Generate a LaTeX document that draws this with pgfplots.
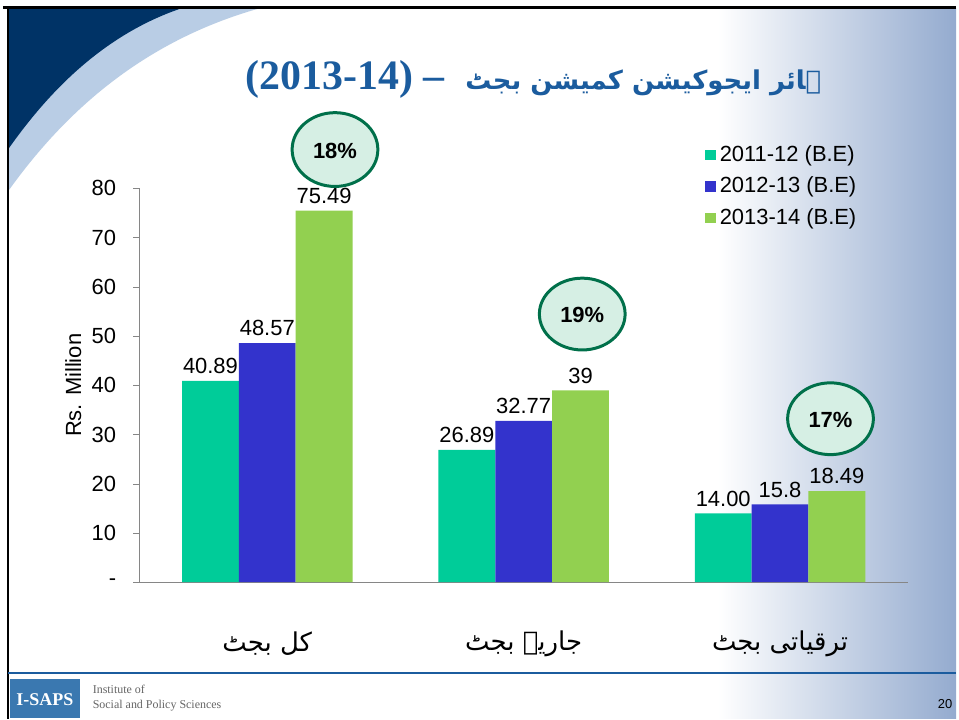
\documentclass[border=0pt]{standalone}
\usepackage{fontspec}
\setmainfont{Liberation Sans}
\newfontfamily\arabicfont[Script=Arabic]{DejaVu Sans}
\newfontfamily\serifbf{Liberation Serif}
\usepackage{pgfplots}
\pgfplotsset{compat=1.18}
\TeXXeTstate=1

\definecolor{navy}{HTML}{003366}
\definecolor{swlight}{HTML}{B9CDE5}
\definecolor{grad}{HTML}{94ABCF}
\definecolor{cteal}{HTML}{00CC99}
\definecolor{cblue}{HTML}{3333CC}
\definecolor{cgreen}{HTML}{92D050}
\definecolor{titleblue}{HTML}{1B5C9E}
\definecolor{ringgreen}{HTML}{00704A}
\definecolor{ringfill}{HTML}{D6EFE4}
\definecolor{axgray}{HTML}{868686}
\definecolor{logoblue}{HTML}{3A78B0}

\begin{document}
\begin{tikzpicture}
% slide background, 1 unit = 1 px of the reference
\begin{scope}[x=0.5pt,y=-0.5pt]
\fill[white] (0,0) rectangle (959,721);
\shade[left color=white,right color=grad] (720,9) rectangle (959,721);
\fill[swlight] (8,9) -- (8,192) .. controls (70,105) and (150,40) .. (258,9) -- cycle;
\fill[navy] (8,9) -- (8,150) .. controls (50,90) and (105,35) .. (180,9) -- cycle;
\draw[black,line width=1.5pt] (3,8) -- (959,8);
\draw[black,line width=1pt] (8,8) -- (8,721);
\draw[titleblue,line width=0.6pt] (8,675) -- (959,675);
\fill[logoblue] (10,681) rectangle (80,720);
\node[white,font=\serifbf\bfseries\fontsize{9}{10}\selectfont] at (45,702) {I-SAPS};
\node[anchor=west,align=left,text=gray!80!black,font=\serifbf\fontsize{6}{7.5}\selectfont] at (86,700) {Institute of\\Social and Policy Sciences};
\node[font=\fontsize{6.5}{8}\selectfont] at (948,706) {20};
\end{scope}

\begin{axis}[
  at={(69.75pt,-292pt)}, anchor=south west,
  scale only axis, width=385.75pt, height=197.5pt,
  xmin=-0.5, xmax=2.5, ymin=0, ymax=80,
  ybar=0pt, bar width=28.5pt,
  axis lines*=left,
  axis line style={-,draw=axgray},
  xtick={0,1,2},
  xticklabels={{\arabicfont\beginR کل بجٹ\endR},{\arabicfont\beginR جاریہ بجٹ\endR},{\arabicfont\beginR ترقیاتی بجٹ\endR}},
  xtick style={draw=none},
  xticklabel style={anchor=center,yshift=-28pt,font=\fontsize{13}{16}\selectfont},
  ytick={0,10,...,80},
  yticklabels={-,10,20,30,40,50,60,70,80},
  ytick style={draw=axgray},
  tick align=outside, major tick length=3pt,
  yticklabel style={font=\fontsize{11}{13}\selectfont,xshift=-5pt},
  /pgf/number format/assume math mode=true,
  ylabel={Rs. Million},
  every axis y label/.style={at={(axis description cs:-0.0856,0.5)},rotate=90,anchor=center,font=\fontsize{11}{13}\selectfont},
  nodes near coords, point meta=explicit symbolic,
  every node near coord/.append style={font=\fontsize{11}{13}\selectfont,black},
  legend style={at={(0.735,1.12)},anchor=north west,draw=none,fill=none,
    font=\fontsize{11}{13}\selectfont,row sep=2.3pt,inner sep=0pt},
  legend cell align=left,
  legend image code/.code={\draw[#1,draw=none] (0pt,-2.7pt) rectangle (5.5pt,2.7pt);},
  clip=false,
]
\addplot[fill=cteal,draw=none] coordinates {(0,40.89) [40.89] (1,26.89) [26.89] (2,14.00) [14.00]};
\addplot[fill=cblue,draw=none] coordinates {(0,48.57) [48.57] (1,32.77) [32.77] (2,15.8) [15.8]};
\addplot[fill=cgreen,draw=none] coordinates {(0,75.49) [75.49] (1,39) [39] (2,18.49) [18.49]};
\legend{2011-12 (B.E),2012-13 (B.E),2013-14 (B.E)}
\end{axis}

% title and growth rings
\begin{scope}[x=0.5pt,y=-0.5pt]
\node[text=titleblue] at (535,80) {{\serifbf\bfseries\fontsize{21}{24}\selectfont (2013-14)\ –\ \ }{\arabicfont\bfseries\fontsize{13}{17}\selectfont\beginR ہائر ایجوکیشن کمیشن بجٹ\endR}};
\draw[ringgreen,line width=1.5pt,fill=ringfill] (336,150) ellipse [x radius=21.5pt,y radius=18.5pt];
\node[font=\bfseries\fontsize{11}{13}\selectfont] at (336,151) {18\%};
\draw[ringgreen,line width=1.5pt,fill=ringfill] (584,315) ellipse [x radius=21.5pt,y radius=18pt];
\node[font=\bfseries\fontsize{11}{13}\selectfont] at (584,316) {19\%};
\draw[ringgreen,line width=1.5pt,fill=ringfill] (833,420) ellipse [x radius=21.5pt,y radius=18pt];
\node[font=\bfseries\fontsize{11}{13}\selectfont] at (833,421) {17\%};
\end{scope}
\end{tikzpicture}
\end{document}
